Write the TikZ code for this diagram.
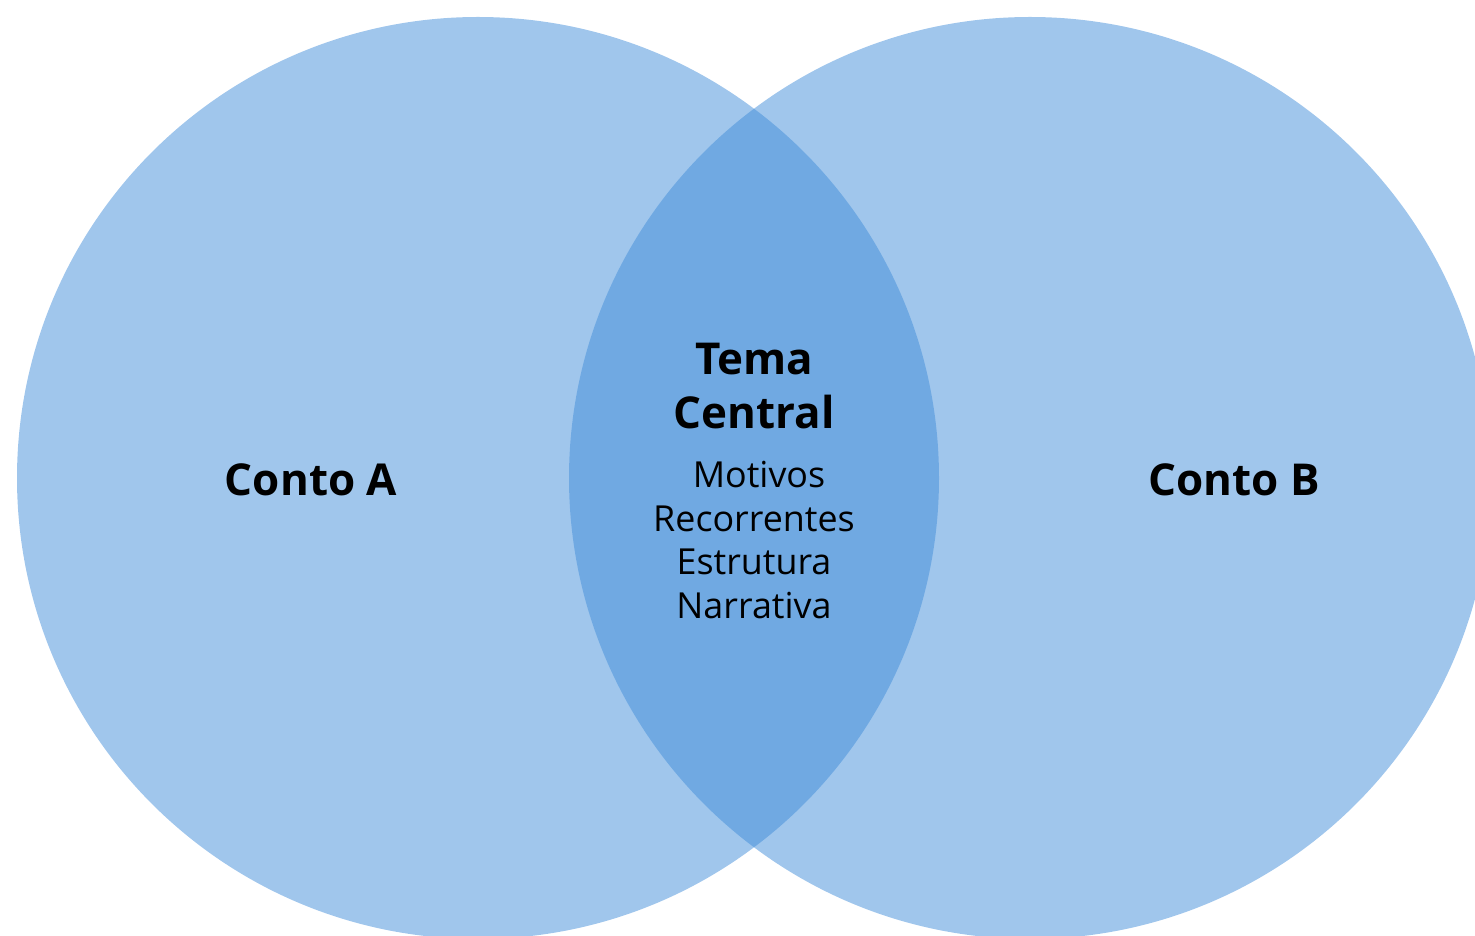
\documentclass[tikz,border=0pt]{standalone}
\usepackage{fontspec}
\setmainfont{Open Sans}
\definecolor{vennblue}{RGB}{65,141,217}
\begin{document}
\begin{tikzpicture}[
		circ/.style = {fill=vennblue, fill opacity=0.5},
		titulo/.style = {font=\bfseries\fontsize{12.5}{15.6}\selectfont, align=center},
		texto/.style = {font=\fontsize{10.2}{12.5}\selectfont, align=center}]
		\useasboundingbox (0,0) rectangle (14.75,-9.36);
		\clip (0,0) rectangle (14.75,-9.36);
		
		\fill[circ] (4.78,-4.78) circle (4.61);
		\fill[circ] (10.30,-4.78) circle (4.61);
		
		\node[titulo] (contoA) at (3.11,-4.80) {Conto A};
		\node[titulo] (contoB) at (12.34,-4.80) {Conto B};
		\node[titulo] (tema) at (7.54,-3.86) {Tema\\Central};
		\node[texto] (motivos) at (7.54,-5.40) {\hspace{0.1cm}Motivos\\Recorrentes\\Estrutura\\Narrativa};
		\end{tikzpicture}
\end{document}
